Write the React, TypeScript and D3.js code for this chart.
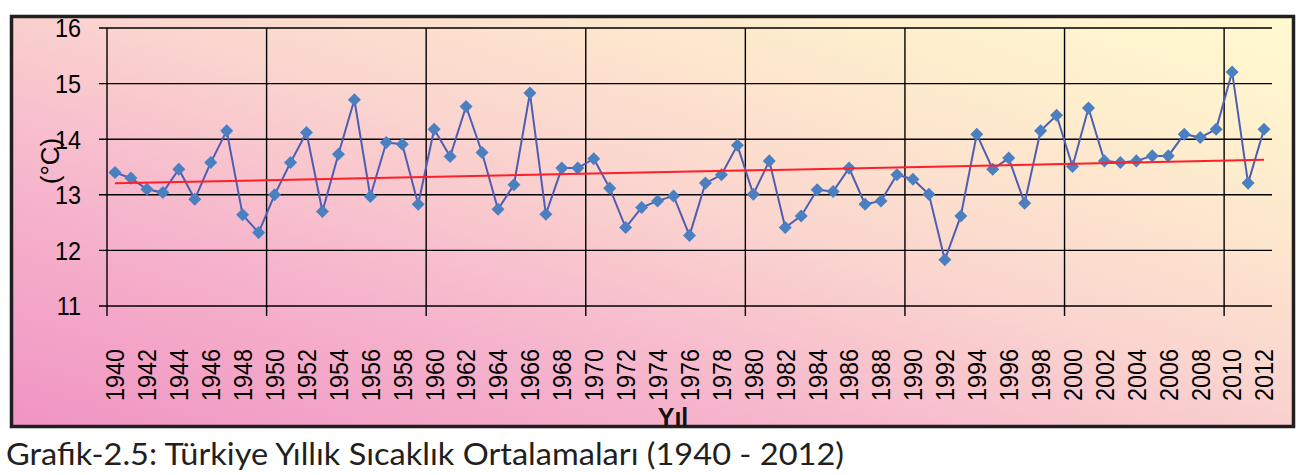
import React from "react";
import * as d3 from "d3";

// yearly mean temperature of Turkey
const years: number[] = d3.range(1940, 2013);
const temps: number[] = [
  13.40, 13.30, 13.10, 13.04, 13.46, 12.92, 13.58, 14.15, 12.64, 12.32,
  13.00, 13.58, 14.12, 12.70, 13.73, 14.71, 12.97, 13.94, 13.91, 12.83,
  14.18, 13.69, 14.59, 13.76, 12.74, 13.18, 14.83, 12.65, 13.48, 13.48,
  13.65, 13.12, 12.41, 12.77, 12.89, 12.98, 12.27, 13.21, 13.36, 13.89,
  13.01, 13.61, 12.41, 12.62, 13.09, 13.06, 13.48, 12.83, 12.89, 13.36,
  13.28, 13.01, 11.83, 12.62, 14.09, 13.46, 13.66, 12.85, 14.15, 14.43,
  13.51, 14.56, 13.61, 13.58, 13.61, 13.70, 13.70, 14.09, 14.03, 14.18,
  15.21, 13.21, 14.18,
];
const yTicks: number[] = [11, 12, 13, 14, 15, 16];
const xLabelYears: number[] = years.filter((y) => y % 2 === 0);
const gridYears: number[] = [1940, 1950, 1960, 1970, 1980, 1990, 2000, 2010];

const W = 1306;
const H = 475;
const plot = { left: 107, right: 1272, top: 28, bottom: 306 };

export default function App() {
  const x = d3.scaleBand<number>().domain(years).range([plot.left, plot.right]).padding(0);
  const cx = (yr: number) => (x(yr) as number) + x.bandwidth() / 2;
  const y = d3.scaleLinear().domain([11, 16]).range([plot.bottom, plot.top]);

  const pts = years.map((yr, i) => ({ yr, v: temps[i] }));
  const line = d3
    .line<{ yr: number; v: number }>()
    .x((d) => cx(d.yr))
    .y((d) => y(d.v));

  // linear trend (least squares) like Excel's trendline
  const n = temps.length;
  const mx = d3.mean(years) as number;
  const my = d3.mean(temps) as number;
  let sxy = 0;
  let sxx = 0;
  years.forEach((yr, i) => {
    sxy += (yr - mx) * (temps[i] - my);
    sxx += (yr - mx) * (yr - mx);
  });
  const slope = sxy / sxx;
  const trend = [years[0], years[n - 1]].map((yr) => ({ yr, v: my + slope * (yr - mx) }));

  const diamond = d3.symbol().type(d3.symbolSquare).size(85)();
  const axisFont = "'Liberation Sans', Arial, sans-serif";

  return (
    <svg
      width={W}
      height={H}
      style={{ position: "absolute", left: 0, top: 0, background: "#fff" }}
    >
      <defs>
        <linearGradient id="bg" x1="0" y1="1" x2="1" y2="0">
          <stop offset="0" stopColor="#f194c3" />
          <stop offset="0.3" stopColor="#f6b5cc" />
          <stop offset="0.55" stopColor="#fbd6cf" />
          <stop offset="0.82" stopColor="#feefcd" />
          <stop offset="1" stopColor="#fffad0" />
        </linearGradient>
      </defs>

      <rect x={11.5} y={16.5} width={1282} height={410} fill="url(#bg)" stroke="#231f20" strokeWidth={3.5} />

      {/* horizontal grid + tick marks */}
      {yTicks.map((t) => (
        <line key={"h" + t} x1={plot.left - 8} x2={plot.right} y1={y(t)} y2={y(t)} stroke="#000" strokeWidth={1.4} />
      ))}
      {/* vertical grid every 10 years */}
      {gridYears.map((g) => (
        <line key={"v" + g} x1={x(g)} x2={x(g)} y1={plot.top} y2={plot.bottom + 10} stroke="#000" strokeWidth={1.4} />
      ))}

      {/* y labels */}
      {yTicks.map((t) => (
        <text
          key={"yl" + t}
          transform={`translate(81, ${y(t)}) scale(0.9, 1)`}
          textAnchor="end"
          dy="0.36em"
          fontFamily={axisFont}
          fontSize={26}
          fill="#000"
        >
          {t}
        </text>
      ))}
      <text
        transform="translate(59, 161) rotate(-90)"
        textAnchor="middle"
        fontFamily={axisFont}
        fontSize={26}
        fill="#000"
      >
        (°C)
      </text>

      {/* x labels */}
      {xLabelYears.map((yr) => (
        <text
          key={"xl" + yr}
          transform={`translate(${cx(yr)}, 349) rotate(-90) scale(0.9, 1)`}
          textAnchor="end"
          dy="0.36em"
          fontFamily={axisFont}
          fontSize={26}
          fill="#000"
        >
          {yr}
        </text>
      ))}
      <text x={673} y={426} textAnchor="middle" fontFamily={axisFont} fontWeight="bold" fontSize={25} fill="#111">
        Yıl
      </text>

      {/* series */}
      <path d={line(pts) as string} fill="none" stroke="#4f5db3" strokeWidth={2} />
      {pts.map((d) => (
        <path
          key={"m" + d.yr}
          d={diamond as string}
          transform={`translate(${cx(d.yr)}, ${y(d.v)}) rotate(45)`}
          fill="#4a80c0"
        />
      ))}
      <path d={line(trend) as string} fill="none" stroke="#ff1f2a" strokeWidth={2} />

      <text
        x={6}
        y={465}
        textLength={838}
        lengthAdjust="spacingAndGlyphs"
        fontFamily="Lato, 'Open Sans', sans-serif"
        fontSize={31}
        fill="#231f20"
      >
        Grafik-2.5: Türkiye Yıllık Sıcaklık Ortalamaları (1940 - 2012)
      </text>
    </svg>
  );
}
